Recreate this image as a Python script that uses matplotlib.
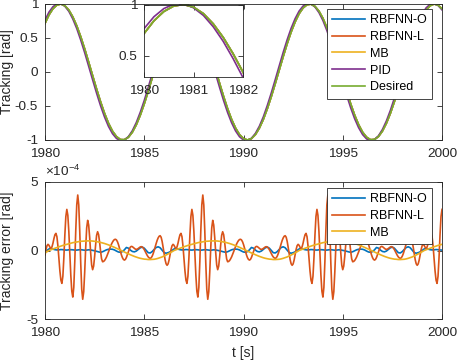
import numpy as np
import matplotlib
matplotlib.use("Agg")
import matplotlib.pyplot as plt

plt.rcParams['font.family'] = ['Liberation Sans', 'DejaVu Sans']
plt.rcParams['axes.unicode_minus'] = False
plt.rcParams['mathtext.fontset'] = 'custom'
plt.rcParams['mathtext.rm'] = 'Liberation Sans'

# ---------------- data ----------------
t_start, t_end = 1980, 2000
xticks = [1980, 1985, 1990, 1995, 2000]
inset_xticks = [1980, 1981, 1982]
top_yticks = [-1, -0.5, 0, 0.5, 1]
top_yticklabels = ['-1', '-0.5', '0', '0.5', '1']
err_yticks = [-5, 0, 5]
err_yticklabels = ['-5', '0', '5']
series_names = ['RBFNN-O', 'RBFNN-L', 'MB', 'PID', 'Desired']

# desired trajectory [rad], sampled every 0.2 s from 1980 to 2000
desired = [0.715, 0.840, 0.931, 0.985, 1.000, 0.974, 0.911, 0.810, 0.678, 0.518,
           0.338, 0.144, -0.055, -0.252, -0.439, -0.609, -0.755, -0.870, -0.950, -0.994,
           -0.996, -0.960, -0.885, -0.775, -0.634, -0.468, -0.283, -0.087, 0.113, 0.308,
           0.491, 0.654, 0.791, 0.897, 0.967, 0.998, 0.989, 0.941, 0.856, 0.736,
           0.587, 0.415, 0.226, 0.028, -0.171, -0.363, -0.541, -0.697, -0.825, -0.921,
           -0.980, -1.000, -0.979, -0.920, -0.824, -0.696, -0.539, -0.361, -0.169, 0.030,
           0.228, 0.417, 0.589, 0.737, 0.857, 0.942, 0.990, 0.998, 0.965, 0.895,
           0.790, 0.652, 0.489, 0.306, 0.111, -0.088, -0.284, -0.469, -0.635, -0.775,
           -0.885, -0.959, -0.996, -0.992, -0.949, -0.868, -0.753, -0.607, -0.437, -0.250,
           -0.053, 0.146, 0.340, 0.520, 0.679, 0.811, 0.911, 0.974, 1.000, 0.983,
           0.929]

# PID tracking [rad], same sampling
pid = [0.763, 0.880, 0.960, 1.003, 1.006, 0.968, 0.893, 0.781, 0.639, 0.470,
       0.284, 0.085, -0.115, -0.312, -0.497, -0.662, -0.801, -0.907, -0.977, -1.009,
       -0.999, -0.951, -0.864, -0.743, -0.592, -0.419, -0.227, -0.028, 0.174, 0.367,
       0.548, 0.705, 0.834, 0.931, 0.990, 1.009, 0.988, 0.929, 0.832, 0.701,
       0.543, 0.363, 0.169, -0.032, -0.231, -0.422, -0.596, -0.746, -0.866, -0.952,
       -1.000, -1.008, -0.975, -0.903, -0.797, -0.659, -0.492, -0.308, -0.111, 0.090,
       0.289, 0.475, 0.643, 0.784, 0.895, 0.970, 1.007, 1.002, 0.957, 0.875,
       0.759, 0.611, 0.440, 0.251, 0.052, -0.149, -0.344, -0.526, -0.687, -0.819,
       -0.920, -0.984, -1.009, -0.993, -0.938, -0.845, -0.719, -0.564, -0.386, -0.194,
       0.007, 0.207, 0.400, 0.576, 0.728, 0.852, 0.943, 0.996, 1.009, 0.980,
       0.914]

# RBFNN-L tracking error [x1e-4 rad], sampled every 0.05 s from 1980 to 2000
err_rbfnn_l = [
    -0.32, 0.07, 0.35, 0.45, 0.38, 0.23, 0.15, 0.26, 0.53, 0.87,
    1.15, 1.25, 1.01, 0.34, -0.58, -1.49, -2.16, -2.40, -1.88, -0.53,
    1.13, 2.48, 3.00, 2.57, 1.40, -0.20, -1.80, -2.97, -3.40, -2.69,
    -0.83, 1.48, 3.34, 4.05, 3.32, 1.42, -0.93, -2.83, -3.56, -3.01,
    -1.57, 0.21, 1.65, 2.20, 1.86, 0.96, -0.16, -1.06, -1.40, -1.14,
    -0.44, 0.41, 1.11, 1.37, 1.16, 0.61, -0.06, -0.61, -0.82, -0.80,
    -0.73, -0.61, -0.47, -0.29, -0.10, 0.10, 0.29, 0.47, 0.61, 0.73,
    0.80, 0.82, 0.77, 0.64, 0.44, 0.19, -0.07, -0.32, -0.52, -0.65,
    -0.70, -0.65, -0.51, -0.31, -0.09, 0.11, 0.25, 0.30, 0.28, 0.22,
    0.16, 0.10, 0.08, 0.10, 0.15, 0.21, 0.26, 0.28, 0.25, 0.18,
    0.07, -0.07, -0.22, -0.36, -0.47, -0.54, -0.57, -0.53, -0.41, -0.23,
    0.00, 0.26, 0.51, 0.74, 0.92, 1.04, 1.08, 0.97, 0.67, 0.24,
    -0.24, -0.67, -0.97, -1.08, -0.98, -0.70,
    -0.32, 0.07, 0.35, 0.45, 0.38, 0.23, 0.15, 0.26, 0.53, 0.87,
    1.15, 1.25, 1.01, 0.34, -0.58, -1.49, -2.16, -2.40, -1.88, -0.53,
    1.13, 2.48, 3.00, 2.57, 1.40, -0.20, -1.80, -2.97, -3.40, -2.69,
    -0.83, 1.48, 3.34, 4.05, 3.32, 1.42, -0.93, -2.83, -3.56, -3.01,
    -1.57, 0.21, 1.65, 2.20, 1.86, 0.96, -0.16, -1.06, -1.40, -1.14,
    -0.44, 0.41, 1.11, 1.37, 1.16, 0.61, -0.06, -0.61, -0.82, -0.80,
    -0.73, -0.61, -0.47, -0.29, -0.10, 0.10, 0.29, 0.47, 0.61, 0.73,
    0.80, 0.82, 0.77, 0.64, 0.44, 0.19, -0.07, -0.32, -0.52, -0.65,
    -0.70, -0.65, -0.51, -0.31, -0.09, 0.11, 0.25, 0.30, 0.28, 0.22,
    0.16, 0.10, 0.08, 0.10, 0.15, 0.21, 0.26, 0.28, 0.25, 0.18,
    0.07, -0.07, -0.22, -0.36, -0.47, -0.54, -0.57, -0.53, -0.41, -0.23,
    0.00, 0.26, 0.51, 0.74, 0.92, 1.04, 1.08, 0.97, 0.67, 0.24,
    -0.24, -0.67, -0.97, -1.08, -0.98, -0.70,
    -0.32, 0.07, 0.35, 0.45, 0.38, 0.23, 0.15, 0.26, 0.53, 0.87,
    1.15, 1.25, 1.01, 0.34, -0.58, -1.49, -2.16, -2.40, -1.88, -0.53,
    1.13, 2.48, 3.00, 2.57, 1.40, -0.20, -1.80, -2.97, -3.40, -2.69,
    -0.83, 1.48, 3.34, 4.05, 3.32, 1.42, -0.93, -2.83, -3.56, -3.01,
    -1.57, 0.21, 1.65, 2.20, 1.86, 0.96, -0.16, -1.06, -1.40, -1.14,
    -0.44, 0.41, 1.11, 1.37, 1.16, 0.61, -0.06, -0.61, -0.82, -0.80,
    -0.73, -0.61, -0.47, -0.29, -0.10, 0.10, 0.29, 0.47, 0.61, 0.73,
    0.80, 0.82, 0.77, 0.64, 0.44, 0.19, -0.07, -0.32, -0.52, -0.65,
    -0.70, -0.65, -0.51, -0.31, -0.09, 0.11, 0.25, 0.30, 0.28, 0.22,
    0.16, 0.10, 0.08, 0.10, 0.15, 0.21, 0.26, 0.28, 0.25, 0.18,
    0.07, -0.07, -0.22, -0.36, -0.47, -0.54, -0.57, -0.53, -0.41, -0.23,
    0.00, 0.26, 0.51, 0.74, 0.92, 1.04, 1.08, 0.97, 0.67, 0.24,
    -0.24, -0.67, -0.97, -1.08, -0.98, -0.70,
    -0.32, 0.07, 0.35, 0.45, 0.38, 0.23, 0.15, 0.26, 0.53, 0.87,
    1.15, 1.25, 1.01, 0.34, -0.58, -1.49, -2.16, -2.40, -1.88, -0.53,
    1.13, 2.48, 3.00]

# RBFNN-O and MB tracking errors [x1e-4 rad], sampled every 0.1 s
err_rbfnn_o = [
    -0.10, 0.01, 0.11, 0.15, 0.10, 0.06, 0.04, 0.05, 0.07, 0.06,
    0.04, 0.03, 0.05, 0.06, 0.05, 0.03, 0.03, 0.05, 0.06, 0.04,
    0.02, 0.03, 0.05, 0.04, 0.01, -0.02, -0.06, -0.10, -0.13, -0.09,
    -0.02, 0.05, 0.09, 0.10, 0.09, 0.04, -0.04, -0.11, -0.13, -0.08,
    0.05, 0.22, 0.17, 0.03, -0.07, -0.10, -0.04, 0.08, 0.20, 0.25,
    0.17, 0.00, -0.16, -0.18, -0.08, 0.08, 0.22, 0.27, 0.20, 0.02,
    -0.15, -0.20, -0.16,
    -0.10, 0.01, 0.11, 0.15, 0.10, 0.06, 0.04, 0.05, 0.07, 0.06,
    0.04, 0.03, 0.05, 0.06, 0.05, 0.03, 0.03, 0.05, 0.06, 0.04,
    0.02, 0.03, 0.05, 0.04, 0.01, -0.02, -0.06, -0.10, -0.13, -0.09,
    -0.02, 0.05, 0.09, 0.10, 0.09, 0.04, -0.04, -0.11, -0.13, -0.08,
    0.05, 0.22, 0.17, 0.03, -0.07, -0.10, -0.04, 0.08, 0.20, 0.25,
    0.17, 0.00, -0.16, -0.18, -0.08, 0.08, 0.22, 0.27, 0.20, 0.02,
    -0.15, -0.20, -0.16,
    -0.10, 0.01, 0.11, 0.15, 0.10, 0.06, 0.04, 0.05, 0.07, 0.06,
    0.04, 0.03, 0.05, 0.06, 0.05, 0.03, 0.03, 0.05, 0.06, 0.04,
    0.02, 0.03, 0.05, 0.04, 0.01, -0.02, -0.06, -0.10, -0.13, -0.09,
    -0.02, 0.05, 0.09, 0.10, 0.09, 0.04, -0.04, -0.11, -0.13, -0.08,
    0.05, 0.22, 0.17, 0.03, -0.07, -0.10, -0.04, 0.08, 0.20, 0.25,
    0.17, 0.00, -0.16, -0.18, -0.08, 0.08, 0.22, 0.27, 0.20, 0.02,
    -0.15, -0.20, -0.16,
    -0.10, 0.01, 0.11, 0.15, 0.10, 0.06, 0.04, 0.05, 0.07, 0.06,
    0.04, 0.03]

err_mb = [
    -0.17, -0.09, 0.00, 0.055, 0.11, 0.16, 0.22, 0.27, 0.32, 0.37,
    0.41, 0.45, 0.49, 0.53, 0.57, 0.60, 0.62, 0.65, 0.67, 0.68,
    0.69, 0.70, 0.70, 0.70, 0.69, 0.67, 0.65, 0.62, 0.59, 0.55,
    0.51, 0.46, 0.41, 0.35, 0.29, 0.23, 0.16, 0.10, 0.03, -0.04,
    -0.11, -0.18, -0.24, -0.31, -0.37, -0.43, -0.48, -0.53, -0.57, -0.60,
    -0.63, -0.64, -0.66, -0.66, -0.65, -0.64, -0.61, -0.57, -0.52, -0.47,
    -0.40, -0.33, -0.25,
    -0.17, -0.09, 0.00, 0.055, 0.11, 0.16, 0.22, 0.27, 0.32, 0.37,
    0.41, 0.45, 0.49, 0.53, 0.57, 0.60, 0.62, 0.65, 0.67, 0.68,
    0.69, 0.70, 0.70, 0.70, 0.69, 0.67, 0.65, 0.62, 0.59, 0.55,
    0.51, 0.46, 0.41, 0.35, 0.29, 0.23, 0.16, 0.10, 0.03, -0.04,
    -0.11, -0.18, -0.24, -0.31, -0.37, -0.43, -0.48, -0.53, -0.57, -0.60,
    -0.63, -0.64, -0.66, -0.66, -0.65, -0.64, -0.61, -0.57, -0.52, -0.47,
    -0.40, -0.33, -0.25,
    -0.17, -0.09, 0.00, 0.055, 0.11, 0.16, 0.22, 0.27, 0.32, 0.37,
    0.41, 0.45, 0.49, 0.53, 0.57, 0.60, 0.62, 0.65, 0.67, 0.68,
    0.69, 0.70, 0.70, 0.70, 0.69, 0.67, 0.65, 0.62, 0.59, 0.55,
    0.51, 0.46, 0.41, 0.35, 0.29, 0.23, 0.16, 0.10, 0.03, -0.04,
    -0.11, -0.18, -0.24, -0.31, -0.37, -0.43, -0.48, -0.53, -0.57, -0.60,
    -0.63, -0.64, -0.66, -0.66, -0.65, -0.64, -0.61, -0.57, -0.52, -0.47,
    -0.40, -0.33, -0.25,
    -0.17, -0.09, 0.00, 0.055, 0.11, 0.16, 0.22, 0.27, 0.32, 0.37,
    0.41, 0.45]

err_scale = 1e-4

# ---------------- derived arrays ----------------
t_track = np.linspace(t_start, t_end, len(desired))
t_err_l = np.linspace(t_start, t_end, len(err_rbfnn_l))
t_err = np.linspace(t_start, t_end, len(err_rbfnn_o))
d = np.array(desired)
track_o = d - np.array(err_rbfnn_o)[::2] * err_scale
track_l = d - np.array(err_rbfnn_l)[::4] * err_scale
track_mb = d - np.array(err_mb)[::2] * err_scale

C_BLUE = '#0072BD'
C_ORANGE = '#D95319'
C_YELLOW = '#EDB120'
C_PURPLE = '#7E2F8E'
C_GREEN = '#77AC30'
C_AX = '#262626'
LW = 1.2
TICK_FS = 9.7
LAB_FS = 10

W, H = 457, 364
fig = plt.figure(figsize=(W / 100, H / 100), dpi=100)


def px_axes(l, t, r, b):
    return fig.add_axes([l / W, 1 - b / H, (r - l) / W, (b - t) / H])


def style(ax, xpad=5.5, ypad=5):
    ax.tick_params(direction='in', top=True, right=True, length=3.5, width=0.6,
                   colors=C_AX, labelsize=TICK_FS)
    ax.tick_params(axis='x', pad=xpad)
    ax.tick_params(axis='y', pad=ypad)
    for s in ax.spines.values():
        s.set_color(C_AX)
        s.set_linewidth(0.6)


ax1 = px_axes(45, 4, 442, 140)
ax2 = px_axes(45, 182, 442, 319)

# ---- top: tracking ----
h1, = ax1.plot(t_track, track_o, color=C_BLUE, lw=LW)
h2, = ax1.plot(t_track, track_l, color=C_ORANGE, lw=LW)
h3, = ax1.plot(t_track, track_mb, color=C_YELLOW, lw=LW)
h4, = ax1.plot(t_track, pid, color=C_PURPLE, lw=LW)
h5, = ax1.plot(t_track, desired, color=C_GREEN, lw=LW)
ax1.set_xlim(t_start, t_end)
ax1.set_ylim(-1, 1)
ax1.set_xticks(xticks)
ax1.set_xticklabels([str(x) for x in xticks])
ax1.set_yticks(top_yticks)
ax1.set_yticklabels(top_yticklabels)
style(ax1)
ax1.set_ylabel('Tracking [rad]', fontsize=LAB_FS, color=C_AX)
ax1.yaxis.set_label_coords(-0.078, 0.5)

leg_kw = dict(loc='upper right', bbox_transform=fig.transFigure, borderaxespad=0,
              fontsize=9, handlelength=2.64, handletextpad=0.4, borderpad=0.42,
              labelspacing=0.38, fancybox=False, framealpha=1, edgecolor=C_AX)
leg1 = ax1.legend([h1, h2, h3, h4, h5], series_names,
                  bbox_to_anchor=(432 / W, 1 - 9 / H), **leg_kw)
leg1.get_frame().set_linewidth(0.6)

# ---- inset ----
axin = px_axes(144, 4.5, 243, 77)
axin.plot(t_track, track_o, color=C_BLUE, lw=LW)
axin.plot(t_track, track_l, color=C_ORANGE, lw=LW)
axin.plot(t_track, track_mb, color=C_YELLOW, lw=LW)
axin.plot(t_track, pid, color=C_PURPLE, lw=LW)
axin.plot(t_track, desired, color=C_GREEN, lw=LW)
axin.set_xlim(1980, 1982)
axin.set_ylim(0.29, 1.0)
axin.set_xticks(inset_xticks)
axin.set_xticklabels([str(x) for x in inset_xticks])
axin.set_yticks([0.5, 1])
axin.set_yticklabels(['0.5', '1'])
style(axin)

# ---- bottom: tracking error ----
g1, = ax2.plot(t_err, err_rbfnn_o, color=C_BLUE, lw=LW)
g2, = ax2.plot(t_err_l, err_rbfnn_l, color=C_ORANGE, lw=LW)
g3, = ax2.plot(t_err, err_mb, color=C_YELLOW, lw=LW)
ax2.set_xlim(t_start, t_end)
ax2.set_ylim(-5, 5)
ax2.set_xticks(xticks)
ax2.set_xticklabels([str(x) for x in xticks])
ax2.set_yticks(err_yticks)
ax2.set_yticklabels(err_yticklabels)
style(ax2)
ax2.set_ylabel('Tracking error [rad]', fontsize=LAB_FS, color=C_AX)
ax2.yaxis.set_label_coords(-0.078, 0.5)
ax2.set_xlabel('t [s]', fontsize=LAB_FS, color=C_AX)
ax2.xaxis.set_label_coords(0.5, -0.195)
ax2.text(0.0, 1.02, r'$\times$10$^{\mathregular{-4}}$', transform=ax2.transAxes,
         ha='left', va='bottom', fontsize=TICK_FS, color=C_AX)

leg2 = ax2.legend([g1, g2, g3], series_names[:3],
                  bbox_to_anchor=(432 / W, 1 - 188 / H), **leg_kw)
leg2.get_frame().set_linewidth(0.6)

fig.savefig('out.png', dpi=100)
